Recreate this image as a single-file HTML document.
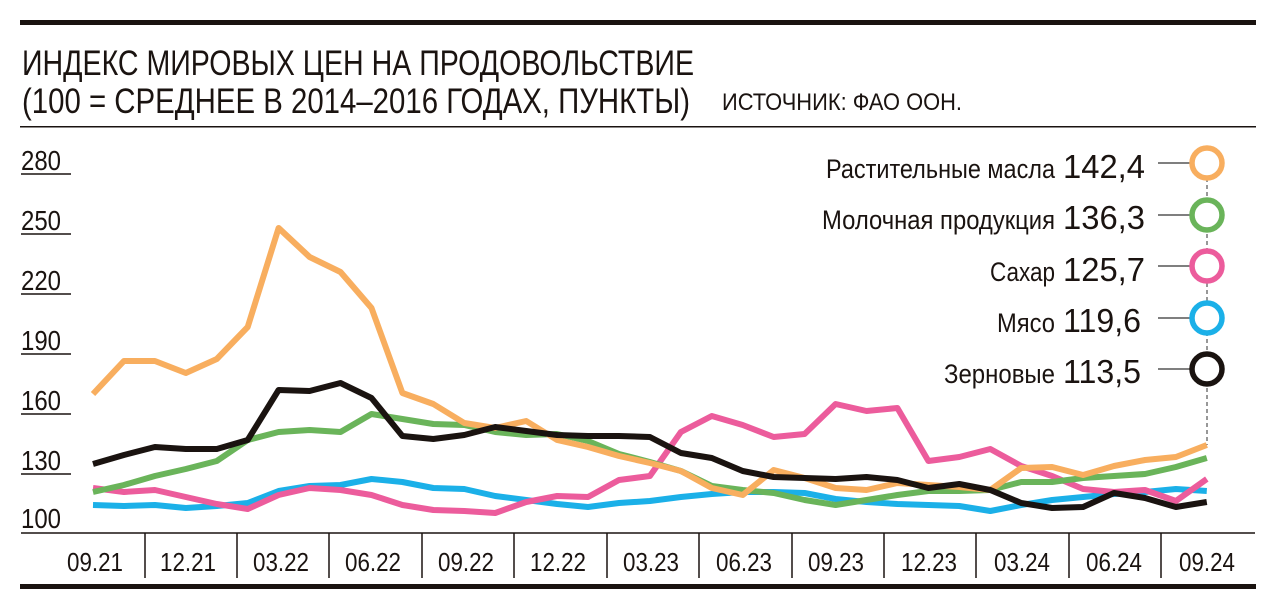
<!DOCTYPE html>
<html><head><meta charset="utf-8"><style>
html,body{margin:0;padding:0;background:#fff;}
svg{display:block;font-family:"Liberation Sans","DejaVu Sans",sans-serif;}
</style></head><body>
<svg width="1276" height="610" viewBox="0 0 1276 610" xmlns="http://www.w3.org/2000/svg">
<rect width="1276" height="610" fill="#fff"/>
<rect x="20" y="20" width="1236" height="5" fill="#1a1310"/>
<text x="22" y="75" font-size="35" fill="#1a1310" textLength="672" lengthAdjust="spacingAndGlyphs">ИНДЕКС МИРОВЫХ ЦЕН НА ПРОДОВОЛЬСТВИЕ</text>
<text x="22" y="113" font-size="35" fill="#1a1310" textLength="668" lengthAdjust="spacingAndGlyphs">(100 = СРЕДНЕЕ В 2014–2016 ГОДАХ, ПУНКТЫ)</text>
<text x="722" y="110" font-size="24" fill="#1a1310" textLength="240" lengthAdjust="spacingAndGlyphs">ИСТОЧНИК: ФАО ООН.</text>
<rect x="20" y="126" width="1236" height="1.5" fill="#1a1310"/>
<g font-size="28" fill="#1a1310">
<text x="21" y="170" textLength="40" lengthAdjust="spacingAndGlyphs">280</text>
<text x="21" y="230" textLength="40" lengthAdjust="spacingAndGlyphs">250</text>
<text x="21" y="290" textLength="40" lengthAdjust="spacingAndGlyphs">220</text>
<text x="21" y="350" textLength="40" lengthAdjust="spacingAndGlyphs">190</text>
<text x="21" y="410" textLength="40" lengthAdjust="spacingAndGlyphs">160</text>
<text x="21" y="470" textLength="40" lengthAdjust="spacingAndGlyphs">130</text>
<text x="21" y="528" textLength="40" lengthAdjust="spacingAndGlyphs">100</text>
</g>
<g stroke="#1a1310" stroke-width="1.5">
<line x1="21" y1="174" x2="71" y2="174"/><line x1="21" y1="234" x2="71" y2="234"/>
<line x1="21" y1="294" x2="71" y2="294"/><line x1="21" y1="354" x2="71" y2="354"/>
<line x1="21" y1="414" x2="71" y2="414"/><line x1="21" y1="474" x2="71" y2="474"/>
<line x1="21" y1="533" x2="1255" y2="533"/>
<line x1="145" y1="533" x2="145" y2="578"/><line x1="237" y1="533" x2="237" y2="578"/>
<line x1="329" y1="533" x2="329" y2="578"/><line x1="422" y1="533" x2="422" y2="578"/>
<line x1="514" y1="533" x2="514" y2="578"/><line x1="607" y1="533" x2="607" y2="578"/>
<line x1="699" y1="533" x2="699" y2="578"/><line x1="792" y1="533" x2="792" y2="578"/>
<line x1="884" y1="533" x2="884" y2="578"/><line x1="976" y1="533" x2="976" y2="578"/>
<line x1="1069" y1="533" x2="1069" y2="578"/><line x1="1161" y1="533" x2="1161" y2="578"/>
</g>
<g font-size="26" fill="#1a1310" text-anchor="middle">
<text x="95" y="571" textLength="56" lengthAdjust="spacingAndGlyphs">09.21</text>
<text x="188" y="571" textLength="56" lengthAdjust="spacingAndGlyphs">12.21</text>
<text x="281" y="571" textLength="56" lengthAdjust="spacingAndGlyphs">03.22</text>
<text x="373" y="571" textLength="56" lengthAdjust="spacingAndGlyphs">06.22</text>
<text x="466" y="571" textLength="56" lengthAdjust="spacingAndGlyphs">09.22</text>
<text x="558" y="571" textLength="56" lengthAdjust="spacingAndGlyphs">12.22</text>
<text x="651" y="571" textLength="56" lengthAdjust="spacingAndGlyphs">03.23</text>
<text x="744" y="571" textLength="56" lengthAdjust="spacingAndGlyphs">06.23</text>
<text x="836" y="571" textLength="56" lengthAdjust="spacingAndGlyphs">09.23</text>
<text x="929" y="571" textLength="56" lengthAdjust="spacingAndGlyphs">12.23</text>
<text x="1022" y="571" textLength="56" lengthAdjust="spacingAndGlyphs">03.24</text>
<text x="1114" y="571" textLength="56" lengthAdjust="spacingAndGlyphs">06.24</text>
<text x="1207" y="571" textLength="56" lengthAdjust="spacingAndGlyphs">09.24</text>
</g>
<rect x="20" y="584" width="1236" height="5" fill="#1a1310"/>
<line x1="1207" y1="178" x2="1207" y2="445" stroke="#777" stroke-width="1.5" stroke-dasharray="4,3"/>
<g fill="none" stroke-width="6" stroke-linejoin="round">
<polyline id="blue" stroke="#1bb0e8" points=""/>
<polyline id="pink" stroke="#ec5c9c" points=""/>
<polyline id="green" stroke="#6ab45a" points=""/>
<polyline id="orange" stroke="#f8ae5f" points=""/>
<polyline id="black" stroke="#1a1310" points=""/>
</g>
<g stroke="#555" stroke-width="1.5">
<line x1="1158" y1="163" x2="1192" y2="163"/><line x1="1158" y1="215" x2="1192" y2="215"/>
<line x1="1158" y1="266" x2="1192" y2="266"/><line x1="1158" y1="318" x2="1192" y2="318"/>
<line x1="1158" y1="369" x2="1192" y2="369"/>
</g>
<g fill="#fff" stroke-width="5.5">
<circle cx="1207" cy="163" r="15" stroke="#f8ae5f"/>
<circle cx="1207" cy="215" r="15" stroke="#6ab45a"/>
<circle cx="1207" cy="266" r="15" stroke="#ec5c9c"/>
<circle cx="1207" cy="318" r="15" stroke="#1bb0e8"/>
<circle cx="1207" cy="369" r="15" stroke="#1a1310"/>
</g>
<g fill="#1a1310" text-anchor="end">
<text x="1055" y="178" font-size="27" textLength="229" lengthAdjust="spacingAndGlyphs">Растительные масла</text>
<text x="1145" y="178" font-size="33" textLength="82" lengthAdjust="spacingAndGlyphs">142,4</text>
<text x="1055" y="229" font-size="27" textLength="233" lengthAdjust="spacingAndGlyphs">Молочная продукция</text>
<text x="1145" y="229" font-size="33" textLength="82" lengthAdjust="spacingAndGlyphs">136,3</text>
<text x="1055" y="281" font-size="27" textLength="65" lengthAdjust="spacingAndGlyphs">Сахар</text>
<text x="1145" y="281" font-size="33" textLength="82" lengthAdjust="spacingAndGlyphs">125,7</text>
<text x="1055" y="332" font-size="27" textLength="58" lengthAdjust="spacingAndGlyphs">Мясо</text>
<text x="1141" y="332" font-size="33" textLength="78" lengthAdjust="spacingAndGlyphs">119,6</text>
<text x="1055" y="383" font-size="27" textLength="111" lengthAdjust="spacingAndGlyphs">Зерновые</text>
<text x="1141" y="383" font-size="33" textLength="78" lengthAdjust="spacingAndGlyphs">113,5</text>
</g>
<script>
var d={
orange:[394,361,361,373,359,327,228,257,272,308,393,404,423,428,421,440,447,456,463,471,488,495,470,478,488,490,483,485,487,490,468,467,475,466,460,457,445],
black:[464,455,447,449,449,440,390,391,383,398,436,439,435,427,431,435,436,436,437,453,458,471,477,478,479,477,480,488,484,490,503,508,507,493,498,507,502],
green:[492,485,476,469,461,440,432,430,432,414,419,424,425,432,435,434,441,454,462,471,486,490,493,500,505,500,495,491,491,490,482,482,478,476,474,467,458],
pink:[488,492,490,497,504,509,495,488,490,495,505,510,511,513,502,496,497,480,476,432,416,425,437,434,404,411,408,461,457,449,466,476,489,492,490,501,479],
blue:[505,506,505,508,506,503,491,486,485,479,482,488,489,496,500,504,507,503,501,497,494,492,492,493,499,502,504,505,506,511,505,500,497,494,492,489,491]};
for(var k in d){var p=d[k].map(function(y,i){return (93+i*30.94).toFixed(1)+","+y}).join(" ");document.getElementById(k).setAttribute("points",p);}
</script>
</svg>
</body></html>
